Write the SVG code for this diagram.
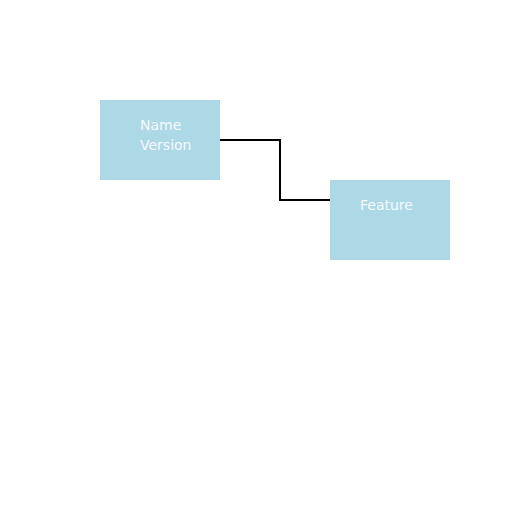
<svg xmlns="http://www.w3.org/2000/svg" width="512" height="512" viewBox="0 0 512 512">
<style>
.node{fill:#ADD8E6;}
.label{fill:#F5FAFF;font-family:"DejaVu Sans",sans-serif;font-size:14px;}
.conn{fill:none;stroke:#000000;stroke-width:2;}
</style>
<rect width="512" height="512" fill="#FFFFFF"/>
<g id="connectors">
<polyline class="conn" points="220,140 280,140 280,200 330,200"/>
</g>
<g id="node-name">
<rect class="node" x="100" y="100" width="120" height="80"/>
<text class="label" x="140" y="130">Name</text>
<text class="label" x="140" y="150">Version</text>
</g>
<g id="node-feature">
<rect class="node" x="330" y="180" width="120" height="80"/>
<text class="label" x="360" y="210">Feature</text>
</g>
</svg>
